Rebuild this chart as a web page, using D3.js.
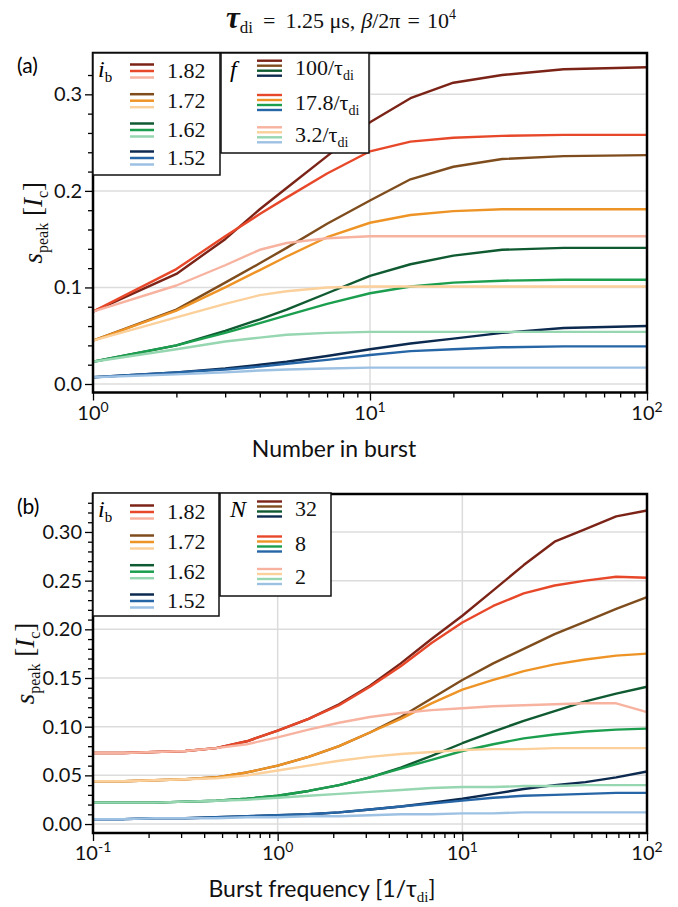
<!DOCTYPE html>
<html>
<head>
<meta charset="utf-8">
<script src="https://cdn.jsdelivr.net/npm/d3@7"></script>
<style>
  body { margin: 0; background: #fff; }
  .sans { font-family: Lato, "DejaVu Sans", sans-serif; }
  .serif { font-family: "Liberation Serif", "DejaVu Serif", serif; }
</style>
</head>
<body>
<svg id="chart" width="678" height="907"></svg>
<script>
// ---- data ----
var ibLabels = ["1.82", "1.72", "1.62", "1.52"];
var fLabels = ["100", "17.8", "3.2"];      // panel (a) legend, in units of 1/tau_di
var nLabels = ["32", "8", "2"];            // panel (b) legend

// colours: [dark, mid, light] per i_b
var col182 = ["#7b2316", "#e8482a", "#f7b3a0"];
var col172 = ["#7f4d1d", "#ee9426", "#fbd09a"];
var col162 = ["#0f5a31", "#1c9e4f", "#96d6b0"];
var col152 = ["#0c2a4f", "#2766a6", "#9dc1e3"];

// panel (a): number in burst
var burstN = [1, 2, 3, 4, 5, 7, 10, 14, 20, 30, 50, 100];
var a182 = [
  [0.075, 0.114, 0.150, 0.181, 0.203, 0.236, 0.271, 0.296, 0.312, 0.320, 0.326, 0.328],
  [0.075, 0.119, 0.153, 0.176, 0.193, 0.218, 0.241, 0.251, 0.255, 0.257, 0.258, 0.258],
  [0.075, 0.102, 0.123, 0.139, 0.146, 0.151, 0.153, 0.153, 0.153, 0.153, 0.153, 0.153]
];
var a172 = [
  [0.045, 0.077, 0.105, 0.125, 0.141, 0.166, 0.190, 0.212, 0.225, 0.233, 0.236, 0.237],
  [0.045, 0.076, 0.100, 0.118, 0.132, 0.152, 0.167, 0.175, 0.179, 0.181, 0.181, 0.181],
  [0.045, 0.069, 0.083, 0.092, 0.096, 0.100, 0.101, 0.101, 0.101, 0.101, 0.101, 0.101]
];
var a162 = [
  [0.023, 0.040, 0.055, 0.067, 0.077, 0.094, 0.112, 0.124, 0.133, 0.139, 0.141, 0.141],
  [0.023, 0.040, 0.053, 0.063, 0.071, 0.083, 0.094, 0.101, 0.105, 0.107, 0.108, 0.108],
  [0.023, 0.036, 0.044, 0.048, 0.051, 0.053, 0.054, 0.054, 0.054, 0.054, 0.054, 0.054]
];
var a152 = [
  [0.007, 0.012, 0.016, 0.020, 0.023, 0.029, 0.036, 0.042, 0.047, 0.053, 0.058, 0.060],
  [0.007, 0.012, 0.015, 0.018, 0.021, 0.025, 0.030, 0.034, 0.036, 0.038, 0.039, 0.039],
  [0.007, 0.010, 0.012, 0.014, 0.015, 0.016, 0.017, 0.017, 0.017, 0.017, 0.017, 0.017]
];

// panel (b): burst frequency in 1/tau_di
var burstF = [0.1, 0.147, 0.215, 0.316, 0.464, 0.681, 1, 1.47, 2.15, 3.16, 4.64, 6.81, 10, 14.7, 21.5, 31.6, 46.4, 68.1, 100];
var b182 = [
  [0.073, 0.073, 0.074, 0.075, 0.078, 0.085, 0.096, 0.108, 0.123, 0.142, 0.165, 0.190, 0.214, 0.240, 0.266, 0.290, 0.303, 0.316, 0.322],
  [0.073, 0.073, 0.074, 0.075, 0.078, 0.085, 0.096, 0.108, 0.122, 0.141, 0.162, 0.186, 0.207, 0.224, 0.237, 0.245, 0.250, 0.254, 0.253],
  [0.073, 0.073, 0.074, 0.075, 0.078, 0.082, 0.089, 0.097, 0.104, 0.110, 0.114, 0.117, 0.119, 0.121, 0.122, 0.123, 0.124, 0.124, 0.115]
];
var b172 = [
  [0.044, 0.044, 0.045, 0.046, 0.048, 0.053, 0.060, 0.069, 0.080, 0.094, 0.110, 0.129, 0.148, 0.165, 0.180, 0.195, 0.208, 0.221, 0.233],
  [0.044, 0.044, 0.045, 0.046, 0.048, 0.053, 0.060, 0.069, 0.080, 0.094, 0.108, 0.124, 0.138, 0.148, 0.157, 0.164, 0.169, 0.173, 0.175],
  [0.044, 0.044, 0.045, 0.046, 0.047, 0.050, 0.055, 0.060, 0.065, 0.069, 0.072, 0.074, 0.076, 0.077, 0.077, 0.078, 0.078, 0.078, 0.078]
];
var b162 = [
  [0.022, 0.022, 0.022, 0.023, 0.024, 0.026, 0.029, 0.034, 0.040, 0.048, 0.058, 0.070, 0.083, 0.095, 0.106, 0.116, 0.126, 0.134, 0.141],
  [0.022, 0.022, 0.022, 0.023, 0.024, 0.026, 0.029, 0.034, 0.040, 0.048, 0.057, 0.066, 0.075, 0.082, 0.088, 0.092, 0.095, 0.097, 0.098],
  [0.022, 0.022, 0.022, 0.023, 0.024, 0.025, 0.027, 0.029, 0.031, 0.033, 0.035, 0.037, 0.038, 0.038, 0.039, 0.039, 0.040, 0.040, 0.040]
];
var b152 = [
  [0.005, 0.005, 0.006, 0.006, 0.007, 0.008, 0.009, 0.010, 0.012, 0.015, 0.018, 0.022, 0.026, 0.031, 0.036, 0.040, 0.043, 0.048, 0.054],
  [0.005, 0.005, 0.006, 0.006, 0.007, 0.008, 0.009, 0.010, 0.012, 0.015, 0.018, 0.021, 0.024, 0.027, 0.029, 0.030, 0.031, 0.032, 0.032],
  [0.005, 0.005, 0.006, 0.006, 0.006, 0.007, 0.007, 0.008, 0.008, 0.009, 0.010, 0.010, 0.011, 0.011, 0.012, 0.012, 0.012, 0.012, 0.012]
];

var yTicksA = [0, 0.1, 0.2, 0.3];
var yTicksB = [0, 0.05, 0.10, 0.15, 0.20, 0.25, 0.30];
var xTicksA = [1, 10, 100];
var xTicksB = [0.1, 1, 10, 100];

// ---- drawing ----
var svg = d3.select("#chart");
var palette = [col182, col172, col162, col152];

function logMinor(lo, hi) {
  var out = [];
  for (var e = Math.round(Math.log10(lo)); e < Math.round(Math.log10(hi)); e++) {
    for (var k = 2; k <= 9; k++) out.push(k * Math.pow(10, e));
  }
  return out;
}

function drawPanel(cfg) {
  var left = 93, right = 647;
  var x = d3.scaleLog().domain(cfg.xDomain).range([left, right]);
  var y = d3.scaleLinear().domain(cfg.yDomain).range([cfg.bottom, cfg.top]);
  var g = svg.append("g");

  // grid
  g.selectAll(".gy").data(cfg.yTicks).enter().append("line")
    .attr("x1", left).attr("x2", right)
    .attr("y1", d => y(d)).attr("y2", d => y(d))
    .attr("stroke", "#dcdcdc").attr("stroke-width", 1.5);
  g.selectAll(".gx").data(cfg.xTicks).enter().append("line")
    .attr("x1", d => x(d)).attr("x2", d => x(d))
    .attr("y1", cfg.top).attr("y2", cfg.bottom)
    .attr("stroke", "#dcdcdc").attr("stroke-width", 1.5);

  // curves: dark first, light on top
  var line = d3.line().x((d, i) => x(cfg.xs[i])).y(d => y(d));
  [0, 1, 2].forEach(function (shade) {
    cfg.series.forEach(function (s, ib) {
      g.append("path").datum(s[shade]).attr("d", line)
        .attr("fill", "none").attr("stroke", palette[ib][shade])
        .attr("stroke-width", 2.4).attr("stroke-linejoin", "round");
    });
  });

  // axes
  var yAx = g.append("g").attr("transform", "translate(" + left + ",0)")
    .call(d3.axisLeft(y).tickValues(cfg.yTicks).tickSize(8).tickPadding(3).tickFormat(cfg.yFormat));
  g.append("g").attr("transform", "translate(" + left + ",0)")
    .call(d3.axisLeft(y).tickValues(cfg.yMinor).tickSize(5).tickFormat(""));
  g.append("g").attr("transform", "translate(0," + cfg.bottom + ")")
    .call(d3.axisBottom(x).tickValues(cfg.xTicks).tickSize(8).tickFormat(""));
  g.append("g").attr("transform", "translate(0," + cfg.bottom + ")")
    .call(d3.axisBottom(x).tickValues(logMinor(cfg.xDomain[0], cfg.xDomain[1])).tickSize(5).tickFormat(""));
  g.selectAll(".domain").remove();
  g.selectAll(".tick line").attr("stroke", "#000").attr("stroke-width", 1.3);
  yAx.selectAll("text").attr("class", "sans").attr("font-size", 20).attr("fill", "#111");

  // x tick labels 10^k
  cfg.xTicks.forEach(function (v) {
    var t = g.append("text").attr("class", "sans").attr("x", x(v)).attr("y", cfg.bottom + 27)
      .attr("text-anchor", "middle").attr("font-size", 20).attr("fill", "#111");
    t.append("tspan").text("10");
    t.append("tspan").attr("dy", -8).attr("font-size", 14).text(String(Math.round(Math.log10(v))));
  });

  // frame
  g.append("rect").attr("x", left).attr("y", cfg.top)
    .attr("width", right - left).attr("height", cfg.bottom - cfg.top)
    .attr("fill", "none").attr("stroke", "#000").attr("stroke-width", 2.5);

  // panel letter
  g.append("text").attr("class", "sans").attr("x", 17).attr("y", cfg.top + 20)
    .attr("font-size", 21).text(cfg.letter);

  // y label
  var yl = g.append("text").attr("class", "serif")
    .attr("transform", "translate(" + cfg.yLabelX + "," + ((cfg.top + cfg.bottom) / 2) + ") rotate(-90)")
    .attr("text-anchor", "middle").attr("font-size", 27).attr("fill", "#111");
  yl.append("tspan").attr("font-style", "italic").text("s");
  yl.append("tspan").attr("font-size", 16).attr("dy", 6).text("peak");
  yl.append("tspan").attr("dy", -6).text(" [");
  yl.append("tspan").attr("font-style", "italic").text("I");
  yl.append("tspan").attr("font-size", 16).attr("dy", 6).text("c");
  yl.append("tspan").attr("dy", -6).text("]");

  // x label
  var xl = g.append("text").attr("class", "sans").attr("x", cfg.xLabelX).attr("y", cfg.bottom + 64)
    .attr("text-anchor", "middle").attr("font-size", 23).attr("fill", "#111");
  xl.append("tspan").text(cfg.xLabel);
  if (cfg.xLabelTau) {
    xl.append("tspan").text("[1/τ");
    xl.append("tspan").attr("class", "serif").attr("font-size", 15).attr("dy", 5).text("di");
    xl.append("tspan").attr("dy", -5).text("]");
  }

  // legends
  var L = cfg.legend;
  var b1 = L.box1, b2 = L.box2;
  [b1, b2].forEach(function (b) {
    g.append("rect").attr("x", b.x).attr("y", b.y).attr("width", b.w).attr("height", b.h)
      .attr("fill", "#fff").attr("stroke", "#111").attr("stroke-width", 1.5);
  });
  var ib = g.append("text").attr("class", "serif").attr("x", 98).attr("y", b1.y + 24).attr("font-size", 24);
  ib.append("tspan").attr("font-style", "italic").text("i");
  ib.append("tspan").attr("font-size", 15).attr("dy", 5).text("b");
  ibLabels.forEach(function (lab, r) {
    var cy = b1.y + L.rows1[r];
    [0, 1, 2].forEach(function (s) {
      g.append("line").attr("x1", 130).attr("x2", 154)
        .attr("y1", cy + (s - 1) * 6.5).attr("y2", cy + (s - 1) * 6.5)
        .attr("stroke", palette[r][s]).attr("stroke-width", 2.5);
    });
    g.append("text").attr("class", "serif").attr("x", 167).attr("y", cy + 7)
      .attr("font-size", 22).attr("fill", "#111").text(lab);
  });
  g.append("text").attr("class", "serif").attr("x", b2.x + L.symX).attr("y", b1.y + 24)
    .attr("font-size", 24).attr("font-style", "italic").text(L.sym);
  L.labels2.forEach(function (lab, r) {
    var cy = b2.y + L.rows2[r];
    [0, 1, 2, 3].forEach(function (k) {
      g.append("line").attr("x1", 257).attr("x2", 282)
        .attr("y1", cy + (k - 1.5) * 5).attr("y2", cy + (k - 1.5) * 5)
        .attr("stroke", palette[k][r]).attr("stroke-width", 2.4);
    });
    var t = g.append("text").attr("class", "serif").attr("x", 295).attr("y", cy + 7)
      .attr("font-size", 22).attr("fill", "#111");
    if (L.tau) {
      t.append("tspan").text(lab + "/τ");
      t.append("tspan").attr("font-size", 14).attr("dy", 5).text("di");
    } else {
      t.text(lab);
    }
  });
}

drawPanel({
  letter: "(a)", top: 53, bottom: 392.5,
  xDomain: [1, 100], yDomain: [-0.0088, 0.3428],
  xs: burstN, series: [a182, a172, a162, a152],
  xTicks: xTicksA, yTicks: yTicksA,
  yMinor: d3.range(0, 0.34, 0.02).filter(v => Math.abs(v * 10 - Math.round(v * 10)) > 1e-6),
  yFormat: d3.format(".1f"), yLabelX: 42,
  xLabel: "Number in burst", xLabelX: 334, xLabelTau: false,
  legend: {
    box1: { x: 93, y: 53, w: 127, h: 122 },
    box2: { x: 221, y: 53, w: 148, h: 100 },
    rows1: [18, 47.7, 77, 105], rows2: [15.2, 49.5, 81.8],
    sym: "f", symX: 9, labels2: fLabels, tau: true
  }
});

drawPanel({
  letter: "(b)", top: 494, bottom: 833,
  xDomain: [0.1, 100], yDomain: [-0.0092, 0.339],
  xs: burstF, series: [b182, b172, b162, b152],
  xTicks: xTicksB, yTicks: yTicksB,
  yMinor: d3.range(0, 0.335, 0.01).filter(v => Math.abs(v * 20 - Math.round(v * 20)) > 1e-6),
  yFormat: d3.format(".2f"), yLabelX: 34,
  xLabel: "Burst frequency ", xLabelX: 322, xLabelTau: true,
  legend: {
    box1: { x: 93, y: 493, w: 126, h: 123 },
    box2: { x: 220, y: 493, w: 111, h: 103 },
    rows1: [19, 49, 78.7, 108], rows2: [16, 51, 83.5],
    sym: "N", symX: 10, labels2: nLabels, tau: false
  }
});

// title as one flowing line
var title = svg.append("text").attr("class", "serif").attr("x", 226).attr("y", 28)
  .attr("font-size", 22).attr("fill", "#111");
title.append("tspan").attr("font-size", 31).attr("font-weight", "bold").attr("font-style", "italic").text("τ");
title.append("tspan").attr("font-size", 17).attr("dy", 5).text("di");
title.append("tspan").attr("dy", -5).attr("dx", 10).text("=");
title.append("tspan").attr("dx", 10).text("1.25 μs,");
title.append("tspan").attr("dx", 6).attr("font-style", "italic").text("β");
title.append("tspan").text("/2π");
title.append("tspan").attr("dx", 7).text("=");
title.append("tspan").attr("dx", 7).text("10");
title.append("tspan").attr("dy", -9).attr("font-size", 14).text("4");
</script>
</body>
</html>
